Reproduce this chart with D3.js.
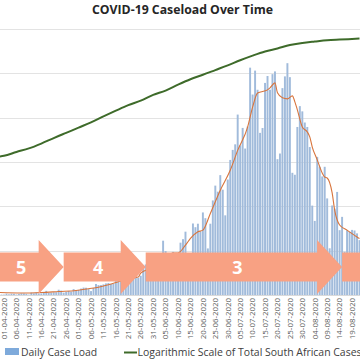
<!DOCTYPE html>
<html><head><meta charset="utf-8">
<script src="https://cdn.jsdelivr.net/npm/d3@7"></script>
<style>html,body{margin:0;padding:0;background:#fff;overflow:hidden}</style>
</head><body>
<svg id="c" width="360" height="360" xmlns="http://www.w3.org/2000/svg"></svg>
<script>
// ---------- data ----------
const title = "COVID-19 Caseload Over Time";
const startDate = "30-03-2020", endDate = "22-08-2020";
// daily new cases, one per day from 30-03-2020 to 22-08-2020
const dailyCases = [
  46, 27,
  27, 82, 43, 80, 70, 31, 63, 96, 89, 69, 25, 145, 99, 143, 91, 99, 178, 251, 124, 142, 165, 170, 318, 267, 141, 185, 247, 203, 354, 297,
  304, 385, 447, 437, 352, 236, 424, 663, 595, 595, 637, 698, 724, 665, 663, 1160, 975, 1480, 767, 1032, 1037, 1134, 1218, 1240, 1032, 1158, 1673, 1837, 1727, 1788, 1674,
  1716, 1455, 1871, 3267, 2642, 2312, 2313, 2594, 2430, 2411, 3147, 3359, 3809, 2196, 2228, 4302, 4078, 4288, 3825, 4966, 4621, 2801, 4288, 5688, 6579, 6215, 7210, 6334, 4792, 6945,
  8124, 8728, 9063, 10853, 9000, 10050, 8810, 10134, 13674, 12058, 13497, 12346, 9752, 10046, 12757, 13172, 12348, 13285, 13449, 8170, 8510, 12444, 13150, 13944, 13104, 7350, 7232, 10107, 11362, 11046, 10375,
  10107, 8900, 5377, 4456, 8307, 7712, 7131, 7712, 5810, 2810, 5385, 5195, 6200, 3900, 4700, 2600, 3900, 3800, 3916, 3880, 3707, 3300
];
const tickLabels = ["01-04-2020","06-04-2020","11-04-2020","16-04-2020","21-04-2020","26-04-2020","01-05-2020","06-05-2020","11-05-2020","16-05-2020","21-05-2020","26-05-2020","31-05-2020","05-06-2020","10-06-2020","15-06-2020","20-06-2020","25-06-2020","30-06-2020","05-07-2020","10-07-2020","15-07-2020","20-07-2020","25-07-2020","30-07-2020","04-08-2020","09-08-2020","14-08-2020","19-08-2020"];
// total cases (log scale series)
const totalDates = ["30-03-2020","01-04-2020","06-04-2020","11-04-2020","16-04-2020","21-04-2020","26-04-2020","01-05-2020","06-05-2020","11-05-2020","16-05-2020","21-05-2020","26-05-2020","31-05-2020","05-06-2020","10-06-2020","15-06-2020","20-06-2020","25-06-2020","30-06-2020","05-07-2020","10-07-2020","15-07-2020","20-07-2020","25-07-2020","30-07-2020","04-08-2020","09-08-2020","14-08-2020","19-08-2020","22-08-2020"];
const totalCases = [1326,1380,1686,2028,2605,3465,4546,5951,7808,10652,14355,19137,24264,32683,40792,55421,73533,92681,118375,151209,196750,250687,311049,364328,434200,482169,521318,559859,579140,596060,607045];
// moving average (orange line)
const avgDates = ["30-03-2020","08-04-2020","16-04-2020","23-04-2020","30-04-2020","05-05-2020","09-05-2020","13-05-2020","17-05-2020","21-05-2020","25-05-2020","26-05-2020","30-05-2020","03-06-2020","08-06-2020","10-06-2020","13-06-2020","15-06-2020","18-06-2020","20-06-2020","23-06-2020","27-06-2020","01-07-2020","04-07-2020","08-07-2020","10-07-2020","12-07-2020","16-07-2020","17-07-2020","19-07-2020","20-07-2020","22-07-2020","24-07-2020","26-07-2020","27-07-2020","28-07-2020","30-07-2020","01-08-2020","02-08-2020","03-08-2020","05-08-2020","07-08-2020","08-08-2020","09-08-2020","11-08-2020","12-08-2020","14-08-2020","17-08-2020","21-08-2020","22-08-2020"];
const avgCases = [150,120,150,210,270,380,470,620,800,980,1080,1320,1600,1900,2530,2530,3000,3400,3800,3900,4900,6300,7500,8700,10100,11300,12150,12340,12460,12760,12160,11860,11800,11980,11620,11140,10110,9810,9510,8900,8130,7340,7100,7040,6140,5120,4210,3900,3490,3400];
// lockdown level arrows (last one runs off the chart, its label is not shown)
const phaseLabels = ["5","4","3",""];
const phaseStart = ["27-03-2020","25-04-2020","28-05-2020","15-08-2020"];
const phaseTip   = ["25-04-2020","28-05-2020","15-08-2020","30-09-2020"];
const logGrid = [10,100,1000,10000,100000,1000000];
const legendLabels = ["Daily Case Load","Logarithmic Scale of Total South African Cases"];

// ---------- drawing ----------
const svg = d3.select("#c");
const parse = d3.utcParse("%d-%m-%Y"), fmt = d3.utcFormat("%d-%m-%Y");
const days = d3.utcDay.range(parse(startDate), d3.utcDay.offset(parse(endDate), 1));
const dayKeys = days.map(fmt);
const step = 2.486, x0 = 4 - step * 2.5;
const xBand = d3.scaleBand().domain(dayKeys).range([x0, x0 + step * dayKeys.length]).paddingInner(0.22).paddingOuter(0.11);
const xTime = d3.scaleTime().domain([parse("01-04-2020"), parse("19-08-2020")]).range([4, 4 + step * 140]);
const yBase = 295, yTop = 29;
const yLin = d3.scaleLinear().domain([0, 16000]).range([yBase, yTop]);
const yLog = d3.scaleLog().domain([1, 1e6]).range([yBase, yTop]);

// title
svg.append("text").attr("x", 182.5).attr("y", 13.5).attr("text-anchor", "middle")
  .attr("font-family", "Open Sans, sans-serif").attr("font-weight", "bold").attr("font-size", 13)
  .attr("fill", "#262626").attr("textLength", 181).attr("lengthAdjust", "spacingAndGlyphs").text(title);

// gridlines
svg.append("g").selectAll("line").data(logGrid).join("line")
  .attr("x1", 0).attr("x2", 360).attr("y1", d => Math.round(yLog(d)) + 0.5).attr("y2", d => Math.round(yLog(d)) + 0.5)
  .attr("stroke", "#e3e3e3").attr("stroke-width", 1);

// bars
svg.append("g").selectAll("rect").data(dailyCases).join("rect")
  .attr("x", (d, i) => xBand(dayKeys[i])).attr("width", xBand.bandwidth())
  .attr("y", d => yLin(d)).attr("height", d => yBase - yLin(d))
  .attr("fill", "#a1bbdb");

// axis baseline
svg.append("line").attr("x1", 0).attr("x2", 360).attr("y1", yBase + 0.5).attr("y2", yBase + 0.5).attr("stroke", "#d9d9d9");

// orange average line
const avgData = avgDates.map((d, i) => ({ t: parse(d), v: avgCases[i] }));
svg.append("path").datum(avgData)
  .attr("d", d3.line().x(d => xTime(d.t)).y(d => yLin(d.v)).curve(d3.curveMonotoneX))
  .attr("fill", "none").attr("stroke", "#d8743c").attr("stroke-width", 1.1);

// green log line
const totData = totalDates.map((d, i) => ({ t: parse(d), v: totalCases[i] }));
svg.append("path").datum(totData)
  .attr("d", d3.line().x(d => xTime(d.t)).y(d => yLog(d.v)).curve(d3.curveMonotoneX))
  .attr("fill", "none").attr("stroke", "#3e6b2a").attr("stroke-width", 2);

// arrows
const cy = 267, bodyH = 14.5, headH = 27, headL = 25;
const arrows = phaseLabels.map((l, i) => {
  const s = xTime(parse(phaseStart[i])), tip = xTime(parse(phaseTip[i])), hb = tip - headL;
  return { l, s, tip, hb };
});
const ag = svg.append("g");
ag.selectAll("path").data(arrows).join("path")
  .attr("d", a => `M${a.s},${cy - bodyH}L${a.hb},${cy - bodyH}L${a.hb},${cy - headH}L${a.tip},${cy}L${a.hb},${cy + headH}L${a.hb},${cy + bodyH}L${a.s},${cy + bodyH}Z`)
  .attr("fill", "#f8a183");
ag.selectAll("text").data(arrows.filter(a => a.l)).join("text")
  .attr("x", a => (a.s + a.hb) / 2 + 6).attr("y", cy + 6.5).attr("text-anchor", "middle")
  .attr("font-family", "Open Sans, sans-serif").attr("font-weight", "bold").attr("font-size", 18)
  .attr("fill", "#ffffff").text(a => a.l);

// tick labels
svg.append("g").selectAll("text").data(tickLabels).join("text")
  .attr("transform", d => `translate(${xBand(d) + xBand.bandwidth() / 2},298) rotate(-90)`)
  .attr("text-anchor", "end").attr("dy", "0.35em")
  .attr("font-family", "Open Sans, sans-serif").attr("font-size", 7.9).attr("fill", "#595959")
  .text(d => d);

// legend
svg.append("rect").attr("x", 5).attr("y", 348).attr("width", 14).attr("height", 7).attr("fill", "#7eaadb");
svg.append("text").attr("x", 21).attr("y", 356).attr("font-family", "Open Sans, sans-serif").attr("font-size", 10.4)
  .attr("fill", "#404040").text(legendLabels[0]);
svg.append("line").attr("x1", 124).attr("x2", 137).attr("y1", 352.5).attr("y2", 352.5).attr("stroke", "#3e6b2a").attr("stroke-width", 2);
svg.append("text").attr("x", 137.5).attr("y", 356).attr("font-family", "Open Sans, sans-serif").attr("font-size", 10.4)
  .attr("fill", "#404040").attr("textLength", 224).attr("lengthAdjust", "spacingAndGlyphs").text(legendLabels[1]);
</script>
</body></html>
